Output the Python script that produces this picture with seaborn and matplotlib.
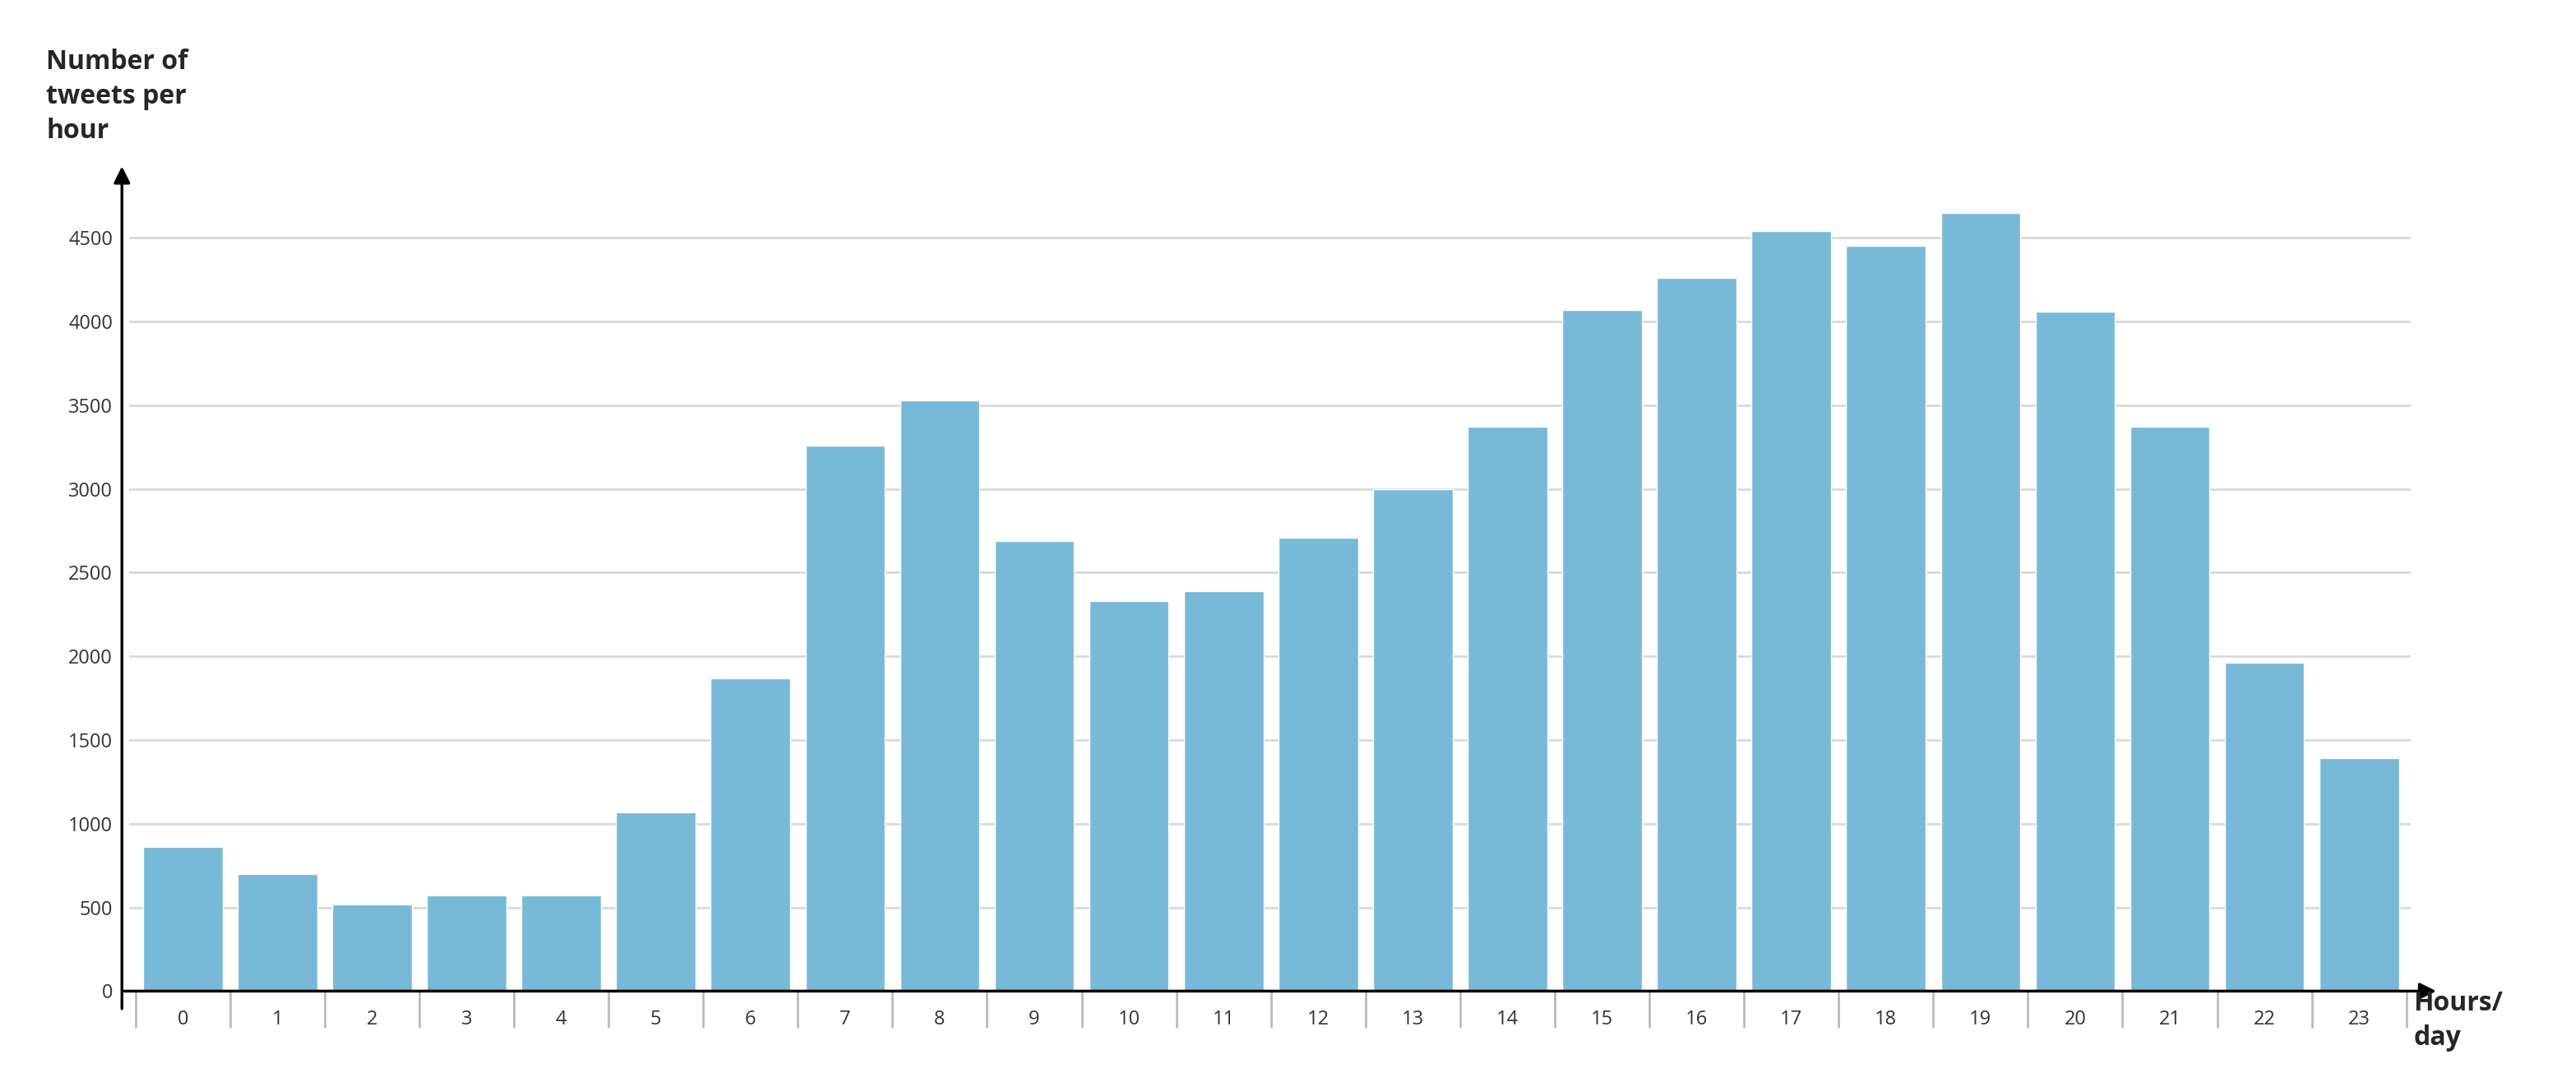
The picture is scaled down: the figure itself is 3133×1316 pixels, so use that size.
import matplotlib
matplotlib.use("Agg")
import matplotlib.pyplot as plt
import seaborn as sns
import pandas as pd

hours = [str(h) for h in range(24)]
tweets = [860, 700, 520, 570, 570, 1070, 1870, 3260, 3530, 2690, 2330, 2390,
          2710, 3000, 3370, 4070, 4260, 4540, 4450, 4650, 4060, 3370, 1960, 1390]
yticks = [0, 500, 1000, 1500, 2000, 2500, 3000, 3500, 4000, 4500]

sns.set_theme(style="white")
plt.rcParams['font.family'] = ['Open Sans', 'DejaVu Sans']

fig = plt.figure(figsize=(31.33, 13.16), dpi=100)
ax = fig.add_axes([0.05, 0.084, 0.886, 0.735])
df = pd.DataFrame({"hour": hours, "tweets": tweets})
sns.barplot(data=df, x="hour", y="tweets", color="#78B9D8", saturation=1, width=0.84, ax=ax)
ax.set_xlim(-0.57, 23.55)
ax.set_ylim(0, 4750)
ax.set_yticks(yticks)
ax.yaxis.grid(True, color="#d9d9d9", linewidth=2)
ax.set_axisbelow(True)
for s in ["top", "right", "left", "bottom"]:
    ax.spines[s].set_visible(False)
ax.set_xlabel("")
ax.set_ylabel("")
ax.tick_params(axis="y", labelsize=17, colors="#333333", length=0, pad=14)
ax.tick_params(axis="x", labelsize=17, colors="#333333", length=0, pad=16)
# category separators
for b in [i - 0.5 for i in range(25)]:
    ax.plot([b, b], [0, -0.045], transform=ax.get_xaxis_transform(), color="#bbbbbb",
            linewidth=2, clip_on=False)
# axes with arrows
ax.annotate("", xy=(1.012, 0), xytext=(-0.003, 0), xycoords="axes fraction",
            arrowprops=dict(arrowstyle="-|>", color="black", lw=2.5, mutation_scale=30))
ax.annotate("", xy=(-0.003, 1.04), xytext=(-0.003, -0.025), xycoords="axes fraction",
            arrowprops=dict(arrowstyle="-|>", color="black", lw=2.5, mutation_scale=30))
fig.text(0.018, 0.955, "Number of\ntweets per\nhour", fontsize=23, fontweight="bold",
         va="top", ha="left", linespacing=1.35)
fig.text(0.937, 0.085, "Hours/\nday", fontsize=23, fontweight="bold",
         va="top", ha="left", linespacing=1.35)
fig.savefig("out.png", dpi=100, facecolor="white")
